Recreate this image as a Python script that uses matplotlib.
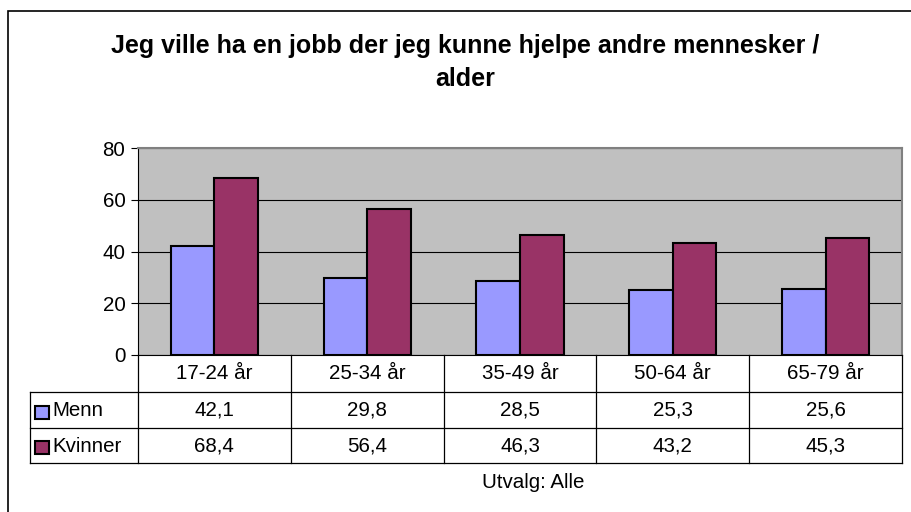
import matplotlib
matplotlib.use("Agg")
from matplotlib import pyplot as plt
from matplotlib.patches import Rectangle
import numpy as np

plt.rcParams['font.family'] = ['Liberation Sans', 'DejaVu Sans']

kategorier = ['17-24 år', '25-34 år', '35-49 år', '50-64 år', '65-79 år']
menn = [42.1, 29.8, 28.5, 25.3, 25.6]
kvinner = [68.4, 56.4, 46.3, 43.2, 45.3]
serier = ['Menn', 'Kvinner']
farger = ['#9999FF', '#993366']
tittel = ['Jeg ville ha en jobb der jeg kunne hjelpe andre mennesker /', 'alder']

W, H = 912, 512
fig = plt.figure(figsize=(W / 100, H / 100), dpi=100)

def fx(px):
    return px / W

def fy(py):
    return 1 - py / H

# ytre ramme
fig.patches.append(Rectangle((fx(8), -0.05), 1.2, fy(11) + 0.05, transform=fig.transFigure,
                             fill=False, edgecolor='black', linewidth=1.2))

left, right, top, bottom = 138, 902, 148, 355
ax = fig.add_axes([fx(left), fy(bottom), fx(right - left), fy(top) - fy(bottom)])
ax.set_facecolor('#C0C0C0')

x = np.arange(len(kategorier))
bw = 0.285
ax.bar(x - bw / 2, menn, bw, color=farger[0], edgecolor='black', linewidth=1.5, zorder=3)
ax.bar(x + bw / 2, kvinner, bw, color=farger[1], edgecolor='black', linewidth=1.5, zorder=3)
ax.set_xlim(-0.5, len(kategorier) - 0.5)
ax.set_ylim(0, 80)
ax.set_yticks([0, 20, 40, 60, 80])
ax.yaxis.grid(True, color='black', linewidth=0.8, zorder=1)
ax.set_xticks([])
ax.tick_params(axis='y', labelsize=14.8, length=5, width=0.8, pad=4)
for s in ['top', 'right']:
    ax.spines[s].set_color('#808080')
    ax.spines[s].set_linewidth(1.5)
ax.spines['left'].set_color('black')
ax.spines['bottom'].set_color('black')

# tittel
fig.text(fx(465), fy(53), tittel[0], ha='center', va='baseline', fontsize=18, fontweight='bold')
fig.text(fx(465), fy(86), tittel[1], ha='center', va='baseline', fontsize=18, fontweight='bold')

# datatabell
rader = [355, 392, 428, 463]
lab_left = 30
colw = (right - left) / len(kategorier)
kol = [left + i * colw for i in range(len(kategorier) + 1)]
lw = 0.9
def hline(y, x0, x1):
    fig.add_artist(plt.Line2D([fx(x0), fx(x1)], [fy(y), fy(y)], color='black', linewidth=lw,
                              transform=fig.transFigure))
def vline(xp, y0, y1):
    fig.add_artist(plt.Line2D([fx(xp), fx(xp)], [fy(y0), fy(y1)], color='black', linewidth=lw,
                              transform=fig.transFigure))

hline(rader[1], lab_left, right)
hline(rader[2], lab_left, right)
hline(rader[3], lab_left, right)
vline(lab_left, rader[1], rader[3])
for k in kol:
    vline(k, rader[0], rader[3])

fs = 14.8
for i, kat in enumerate(kategorier):
    cx = (kol[i] + kol[i + 1]) / 2
    fig.text(fx(cx), fy((rader[0] + rader[1]) / 2), kat, ha='center', va='center', fontsize=fs)
    fig.text(fx(cx), fy((rader[1] + rader[2]) / 2), f'{menn[i]:.1f}'.replace('.', ','),
             ha='center', va='center', fontsize=fs)
    fig.text(fx(cx), fy((rader[2] + rader[3]) / 2), f'{kvinner[i]:.1f}'.replace('.', ','),
             ha='center', va='center', fontsize=fs)

for j, (navn, farge) in enumerate(zip(serier, farger)):
    yc = (rader[1 + j] + rader[2 + j]) / 2 + 2
    fig.patches.append(Rectangle((fx(35), fy(yc + 6.5)), fx(14), fy(yc - 6.5) - fy(yc + 6.5),
                                 transform=fig.transFigure, facecolor=farge,
                                 edgecolor='black', linewidth=1.5))
    fig.text(fx(52), fy(yc - 1), navn, ha='left', va='center', fontsize=fs)

fig.text(fx(533), fy(483), 'Utvalg: Alle', ha='center', va='center', fontsize=fs)

fig.savefig('out.png', dpi=100)
